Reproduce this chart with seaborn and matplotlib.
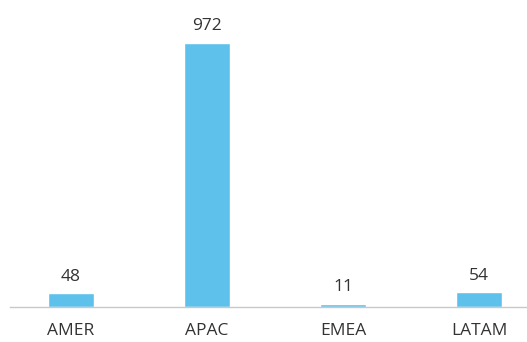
import matplotlib
matplotlib.use("Agg")
import matplotlib.pyplot as plt
import seaborn as sns
import pandas as pd

regions = ["AMER", "APAC", "EMEA", "LATAM"]
values = [48, 972, 11, 54]

df = pd.DataFrame({"region": regions, "value": values})

sns.set_style("white")
plt.rcParams["font.family"] = ["Open Sans", "DejaVu Sans"]

fig = plt.figure(figsize=(5.27, 3.42), dpi=100)
ax = fig.add_axes([10 / 527, 35.5 / 342, 517 / 527, 296 / 342])

sns.barplot(data=df, x="region", y="value", color="#5DC1EC", saturation=1,
            width=0.34, ax=ax)

for i, v in enumerate(values):
    ax.annotate(str(v), (i, v), xytext=(0, 6), textcoords="offset points",
                ha="center", va="bottom", fontsize=12.5, color="#333333")

ax.set_xlim(-61 / 136, -61 / 136 + 517 / 136)
ax.set_ylim(0, 1090)
ax.set_xlabel("")
ax.set_ylabel("")
ax.set_yticks([])
ax.tick_params(axis="x", length=0, pad=12, labelsize=12.5, labelcolor="#333333")
for s in ["top", "right", "left"]:
    ax.spines[s].set_visible(False)
ax.spines["bottom"].set_color("#C8C8C8")
ax.spines["bottom"].set_linewidth(1)

fig.savefig("out.png", dpi=100)
